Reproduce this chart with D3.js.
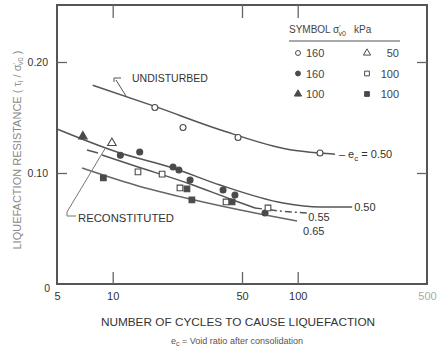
<!DOCTYPE html>
<html>
<head>
<meta charset="utf-8">
<script src="https://cdn.jsdelivr.net/npm/d3@7"></script>
<style>
  body { margin: 0; background: #fff; }
  text { font-family: "Liberation Sans", Arial, sans-serif; }
</style>
</head>
<body>
<script>
'use strict';

// axis ticks
const xTicks = [5, 10, 50, 100, 500];
const yTicks = [0, 0.1, 0.2];

// measured points: number of cycles (N) and resistance ratio (tau)
const openCircleN = [16.9, 24, 47.6, 132];
const openCircleTau = [0.159, 0.141, 0.132, 0.118];
const filledCircleN = [11, 14, 21.2, 22.8, 26.2, 39.5, 45.8, 66.6];
const filledCircleTau = [0.116, 0.119, 0.1054, 0.1027, 0.0937, 0.0847, 0.0802, 0.064];
const filledTriN = [6.9];
const filledTriTau = [0.133];
const openTriN = [9.9];
const openTriTau = [0.127];
const openSquareN = [13.7, 18.5, 23.1, 41, 69.1];
const openSquareTau = [0.101, 0.099, 0.0865, 0.0739, 0.0685];
const filledSquareN = [8.9, 25.2, 26.8, 44.2];
const filledSquareTau = [0.0955, 0.0856, 0.0757, 0.0739];

// fitted curves
const undistLineN = [7.8, 16.9, 38, 91, 132, 159];
const undistLineTau = [0.179, 0.160, 0.139, 0.121, 0.118, 0.117];
const e50N = [5, 10.55, 21.2, 38, 83.3, 132, 197];
const e50Tau = [0.1396, 0.1189, 0.1045, 0.0892, 0.0730, 0.0694, 0.0694];
const e55LeadN = [7.26, 8.33];
const e55LeadTau = [0.1207, 0.118];
const e55N = [8.75, 13.2, 26.2, 43.1, 58.8];
const e55Tau = [0.1162, 0.1063, 0.0901, 0.0766, 0.0685];
const e55DashN = [58.8, 80.2, 114];
const e55DashTau = [0.0685, 0.0658, 0.064];
const e65N = [6.83, 13.2, 26.2, 62.6, 99.2];
const e65Tau = [0.1045, 0.0892, 0.0766, 0.0631, 0.0568];

// legend rows
const legendLeft = [['circle', false, '160'], ['circle', true, '160'], ['triangle', true, '100']];
const legendRight = [['triangle', false, '50'], ['square', false, '100'], ['square', true, '100']];

const ink = '#4a4a4a';

const svg = d3.select('body').append('svg')
  .attr('width', 439)
  .attr('height', 351)
  .style('background', '#fff');

const x = d3.scaleLog().domain([5, 500]).range([57, 427]);
const y = d3.scaleLinear().domain([0, 0.25]).range([284, 6.5]);

// frame
svg.append('rect')
  .attr('x', 57).attr('y', 5)
  .attr('width', 370).attr('height', 279)
  .attr('fill', 'none')
  .attr('stroke', '#555')
  .attr('stroke-width', 2);

// axes with inward ticks
let gx = svg.append('g')
  .attr('transform', 'translate(0,284)')
  .call(d3.axisBottom(x).tickValues(xTicks).tickFormat(d3.format('d'))
    .tickSizeInner(-12).tickSizeOuter(0).tickPadding(8));
gx.selectAll('text').attr('font-size', 11).attr('fill', '#333')
  .filter(d => d === 500).attr('fill', '#aaa');
gx.selectAll('line').filter(d => d === 5 || d === 500).remove();

let gy = svg.append('g')
  .attr('transform', 'translate(57,0)')
  .call(d3.axisLeft(y).tickValues(yTicks)
    .tickFormat(d => d === 0 ? '0' : d3.format('.2f')(d))
    .tickSizeInner(-10).tickSizeOuter(0).tickPadding(9));
gy.selectAll('text').attr('font-size', 10.5).attr('fill', '#333')
  .filter(d => d === 0).attr('dy', '0.75em').attr('x', -7);
gy.selectAll('line').filter(d => d === 0).remove();

svg.append('g')
  .attr('transform', 'translate(0,5)')
  .call(d3.axisTop(x).tickValues([10, 50, 100]).tickFormat('')
    .tickSizeInner(-13).tickSizeOuter(0));

svg.append('g')
  .attr('transform', 'translate(427,0)')
  .call(d3.axisRight(y).tickValues([0.1, 0.2]).tickFormat('')
    .tickSizeInner(-10).tickSizeOuter(0));

svg.selectAll('.domain').remove();
svg.selectAll('.tick line').attr('stroke', '#666').attr('stroke-width', 1.3);

// curves
const line = d3.line()
  .x(d => x(d[0]))
  .y(d => y(d[1]))
  .curve(d3.curveMonotoneX);

function drawCurve(ns, taus, dash, color) {
  svg.append('path')
    .datum(d3.zip(ns, taus))
    .attr('fill', 'none')
    .attr('stroke', color || '#555')
    .attr('stroke-width', 1.5)
    .attr('stroke-dasharray', dash || null)
    .attr('d', line);
}

drawCurve(undistLineN, undistLineTau);
drawCurve(e50N, e50Tau);
drawCurve(e55LeadN, e55LeadTau);
drawCurve(e55N, e55Tau);
drawCurve(e55DashN, e55DashTau, '7,3,2,3');
drawCurve(e65N, e65Tau, null, '#666');

// markers
const shapes = { circle: d3.symbolCircle, square: d3.symbolSquare, triangle: d3.symbolTriangle };
const sizes = { circle: 28, square: 32, triangle: 32 };

function drawPoints(ns, taus, shape, filled) {
  svg.append('g').selectAll('path')
    .data(d3.zip(ns, taus))
    .enter()
    .append('path')
      .attr('transform', d => `translate(${x(d[0])},${y(d[1])})`)
      .attr('d', d3.symbol().type(shapes[shape]).size(sizes[shape]))
      .attr('fill', filled ? ink : '#fff')
      .attr('stroke', ink)
      .attr('stroke-width', 1.1);
}

drawPoints(openCircleN, openCircleTau, 'circle', false);
drawPoints(filledCircleN, filledCircleTau, 'circle', true);
drawPoints(filledTriN, filledTriTau, 'triangle', true);
drawPoints(openTriN, openTriTau, 'triangle', false);
drawPoints(openSquareN, openSquareTau, 'square', false);
drawPoints(filledSquareN, filledSquareTau, 'square', true);

// curve labels
function ecLabel(px, py, prefix, value) {
  let t = svg.append('text')
    .attr('x', px).attr('y', py)
    .attr('font-size', 11).attr('fill', '#333');
  if (prefix) {
    t.append('tspan').text('– e');
    t.append('tspan').attr('dy', 3).attr('font-size', 8).text('c');
    t.append('tspan').attr('dy', -3).text(' = ' + value);
  } else {
    t.text(value);
  }
}

let lastU = undistLineN.length - 1;
ecLabel(x(undistLineN[lastU]) + 4, y(undistLineTau[lastU]) + 4, true, '0.50');
ecLabel(x(e50N[e50N.length - 1]) + 2, y(e50Tau[e50Tau.length - 1]) + 4, false, '0.50');
ecLabel(x(e55DashN[e55DashN.length - 1]), y(e55DashTau[e55DashTau.length - 1]) + 8, false, '0.55');
ecLabel(x(e65N[e65N.length - 1]) + 6, y(e65Tau[e65Tau.length - 1]) + 14, false, '0.65');

// annotations with leaders
svg.append('path')
  .attr('d', 'M121,78 L114,78 L114,82 M116,80 L126,96')
  .attr('fill', 'none').attr('stroke', '#555').attr('stroke-width', 1);
svg.append('text')
  .attr('x', 132).attr('y', 82)
  .attr('font-size', 10.5).attr('fill', '#333')
  .text('UNDISTURBED');

svg.append('path')
  .attr('d', 'M106,147 L67,212 L67,216 L76,216')
  .attr('fill', 'none').attr('stroke', '#777').attr('stroke-width', 1);
svg.append('text')
  .attr('x', 78).attr('y', 222)
  .attr('font-size', 11.3).attr('fill', '#333')
  .text('RECONSTITUTED');

// legend
let head = svg.append('text')
  .attr('x', 289).attr('y', 33)
  .attr('font-size', 10).attr('fill', '#444');
head.append('tspan').text('SYMBOL σ');
head.append('tspan').attr('dy', -3).attr('font-size', 7).text("'");
head.append('tspan').attr('dy', 6).attr('dx', -2).attr('font-size', 7).text('v0');
head.append('tspan').attr('dy', -3).attr('dx', 8).text('kPa');

svg.append('line')
  .attr('x1', 289).attr('x2', 400)
  .attr('y1', 41).attr('y2', 41)
  .attr('stroke', '#555').attr('stroke-width', 1);

legendLeft.forEach((row, i) => {
  let yy = 53 + i * 20.5;
  svg.append('path')
    .attr('transform', `translate(298,${yy})`)
    .attr('d', d3.symbol().type(shapes[row[0]]).size(sizes[row[0]] * 0.7))
    .attr('fill', row[1] ? ink : '#fff')
    .attr('stroke', ink);
  svg.append('text')
    .attr('x', 306).attr('y', yy + 4)
    .attr('font-size', 11).attr('fill', '#444')
    .text(row[2]);
});

legendRight.forEach((row, i) => {
  let yy = 53 + i * 20.5;
  svg.append('path')
    .attr('transform', `translate(367,${yy})`)
    .attr('d', d3.symbol().type(shapes[row[0]]).size(sizes[row[0]] * 0.7))
    .attr('fill', row[1] ? ink : '#fff')
    .attr('stroke', ink);
  svg.append('text')
    .attr('x', 399).attr('y', yy + 4)
    .attr('text-anchor', 'end')
    .attr('font-size', 11).attr('fill', '#444')
    .text(row[2]);
});

// axis titles
svg.append('text')
  .attr('x', 238).attr('y', 326)
  .attr('text-anchor', 'middle')
  .attr('font-size', 11.8).attr('fill', '#333')
  .text('NUMBER OF CYCLES TO CAUSE LIQUEFACTION');

let note = svg.append('text')
  .attr('x', 237).attr('y', 344)
  .attr('text-anchor', 'middle')
  .attr('font-size', 9).attr('fill', '#555');
note.append('tspan').text('e');
note.append('tspan').attr('dy', 2).attr('font-size', 7).text('c');
note.append('tspan').attr('dy', -2).text(' = Void ratio after consolidation');

let ytitle = svg.append('text')
  .attr('transform', 'translate(21,150) rotate(-90)')
  .attr('text-anchor', 'middle')
  .attr('font-size', 11).attr('fill', '#888');
ytitle.append('tspan').text('LIQUEFACTION RESISTANCE ( τ');
ytitle.append('tspan').attr('dy', 2).attr('font-size', 7.5).text('l');
ytitle.append('tspan').attr('dy', -2).text(' / σ');
ytitle.append('tspan').attr('dy', -3).attr('font-size', 7.5).text("'");
ytitle.append('tspan').attr('dy', 5).attr('dx', -2).attr('font-size', 7.5).text('v0');
ytitle.append('tspan').attr('dy', -2).text(' )');
</script>
</body>
</html>
